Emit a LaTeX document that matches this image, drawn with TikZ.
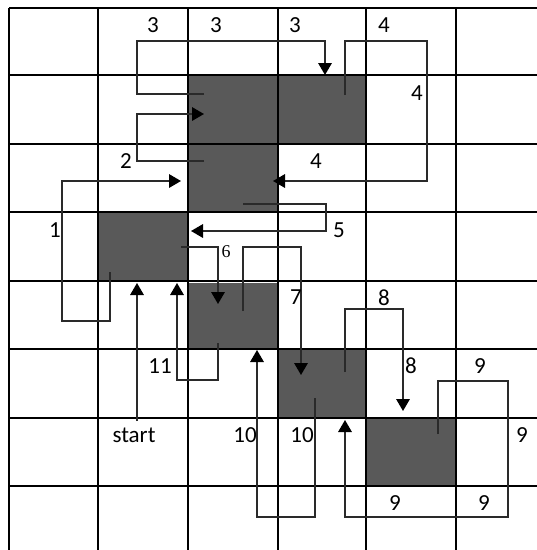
\documentclass[tikz,border=0pt]{standalone}
\usepackage{fontspec}
\setmainfont{Carlito}
\newfontfamily\serifnum{Liberation Serif}
\usetikzlibrary{arrows.meta}
\definecolor{cellgray}{HTML}{595959}
\definecolor{routecol}{HTML}{2a2a2a}
\begin{document}
\begin{tikzpicture}[x=1pt,y=-1pt,
  route/.style={draw=routecol, line width=1.7pt},
  arr/.style={route,-{Triangle[length=12pt,width=13.5pt,fill=black,color=black]}},
  gridline/.style={draw=black, line width=1.1pt},
  lbl/.style={font=\fontsize{23}{23}\selectfont, inner sep=0pt, text=black},
  cell/.style={fill=cellgray, draw=none}]
\useasboundingbox (0,0) rectangle (537,550);
\fill[white] (0,0) rectangle (537,550);
% shaded cells
\path[cell] (188,75) rectangle (278,144);
\path[cell] (278,75) rectangle (366,144);
\path[cell] (188,144) rectangle (278,212);
\path[cell] (98,212) rectangle (188,281);
\path[cell] (188,283) rectangle (278,349);
\path[cell] (278,349) rectangle (366,418);
\path[cell] (366,418) rectangle (456,486);
% grid
\foreach \x in {9,98,188,278,366,456} \draw[gridline] (\x,8) -- (\x,550);
\foreach \y in {8,75,144,212,281,349,418,486} \draw[gridline] (9,\y) -- (537,\y);
% routes
\coordinate (p1s) at (110,272);
\coordinate (p1e) at (181,181);
\draw[arr] (p1s) -- (110,321) -- (62,321) -- (62,181) -- (p1e);
\coordinate (p2s) at (204,161);
\coordinate (p2e) at (204,114);
\draw[arr] (p2s) -- (137,161) -- (137,114) -- (p2e);
\coordinate (p3s) at (204,94);
\coordinate (p3e) at (325,75);
\draw[arr] (p3s) -- (137,94) -- (137,41) -- (325,41) -- (p3e);
\coordinate (p4s) at (345,95);
\coordinate (p4e) at (273,181);
\draw[arr] (p4s) -- (345,41) -- (427,41) -- (427,181) -- (p4e);
\coordinate (p5s) at (243,204);
\coordinate (p5e) at (191,231);
\draw[arr] (p5s) -- (326,204) -- (326,231) -- (p5e);
\coordinate (p6s) at (181,247);
\coordinate (p6e) at (218,304);
\draw[arr] (p6s) -- (218,247) -- (p6e);
\coordinate (p7s) at (243,311);
\coordinate (p7e) at (301,375);
\draw[arr] (p7s) -- (243,247) -- (301,247) -- (p7e);
\coordinate (p8s) at (345,372);
\coordinate (p8e) at (403,411);
\draw[arr] (p8s) -- (345,309) -- (403,309) -- (p8e);
\coordinate (p9s) at (438,434);
\coordinate (p9e) at (345,420);
\draw[arr] (p9s) -- (438,381) -- (508,381) -- (508,517) -- (345,517) -- (p9e);
\coordinate (p10s) at (315,398);
\coordinate (p10e) at (257,350);
\draw[arr] (p10s) -- (315,517) -- (257,517) -- (p10e);
\coordinate (p11s) at (218,343);
\coordinate (p11e) at (177,283);
\draw[arr] (p11s) -- (218,380) -- (177,380) -- (p11e);
\coordinate (ps) at (137,421);
\coordinate (pe) at (137,283);
\draw[arr] (ps) -- (pe);
% labels
\node[lbl] (l3a) at (153,25) {3};
\node[lbl] (l3b) at (216,25) {3};
\node[lbl] (l3c) at (295,25) {3};
\node[lbl] (l4a) at (384,25) {4};
\node[lbl] (l4b) at (417,93) {4};
\node[lbl] (l4c) at (316,161) {4};
\node[lbl] (l2) at (126,161) {2};
\node[lbl] (l1) at (55,230) {1};
\node[lbl] (l5) at (339,230) {5};
\node[lbl, font=\serifnum\fontsize{18}{18}\selectfont] (l6) at (226,252) {6};
\node[lbl] (l7) at (296,297) {7};
\node[lbl] (l8a) at (384,298) {8};
\node[lbl] (l8b) at (411,366) {8};
\node[lbl] (l9a) at (480,366) {9};
\node[lbl] (l9b) at (522,435) {9};
\node[lbl] (l9c) at (395,503) {9};
\node[lbl] (l9d) at (484,503) {9};
\node[lbl] (l10a) at (245,435) {10};
\node[lbl] (l10b) at (302,435) {10};
\node[lbl] (l11) at (160,366) {11};
\node[lbl] (lstart) at (134,435) {start};
\end{tikzpicture}
\end{document}
